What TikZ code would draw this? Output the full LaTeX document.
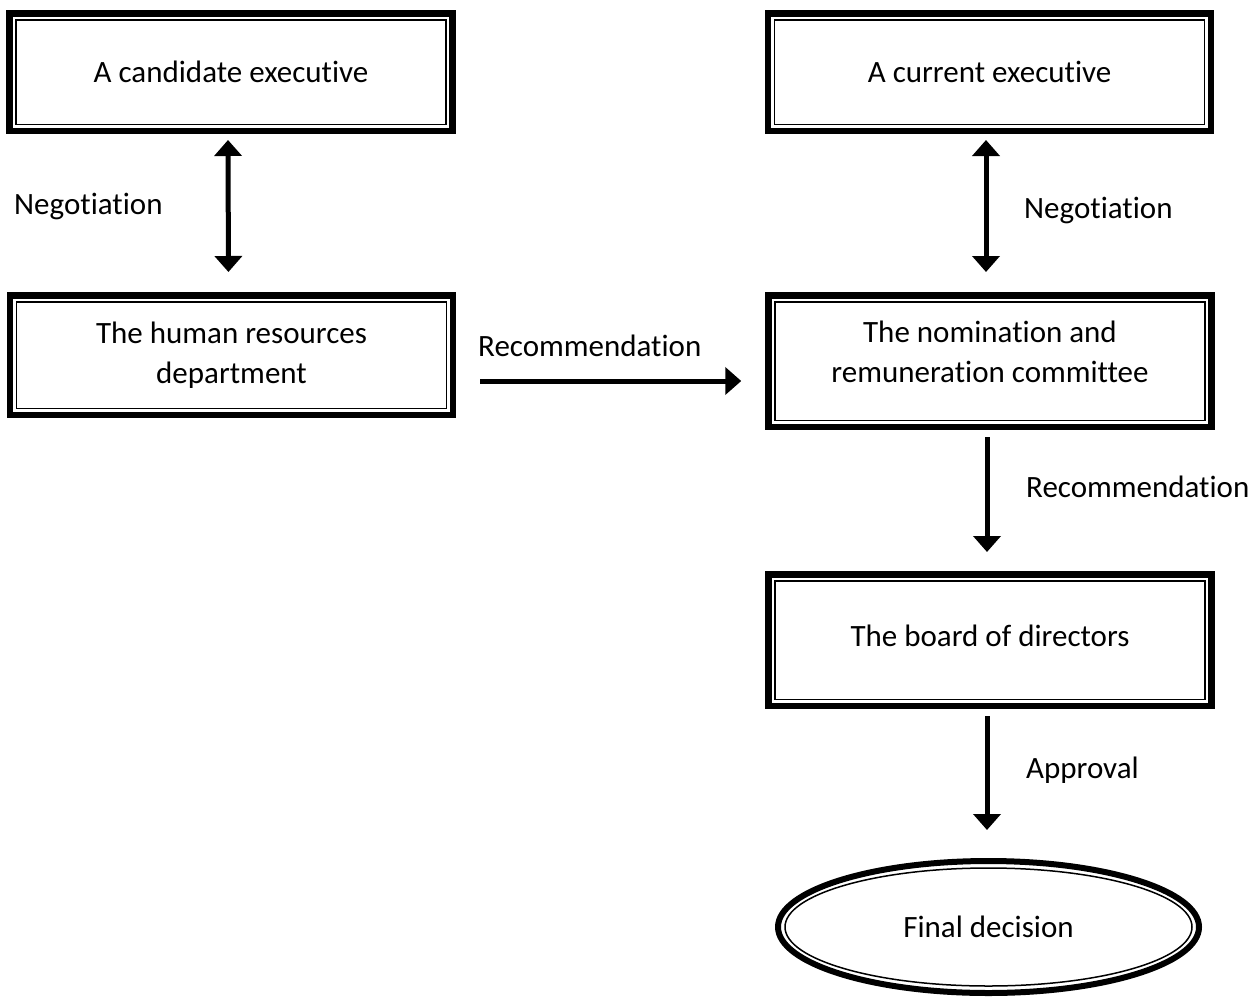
\documentclass[tikz,border=0pt]{standalone}
\usepackage{fontspec}
\setmainfont{Carlito}[Ligatures=NoCommon]
\usetikzlibrary{arrows.meta, positioning, calc, shapes.geometric}

\tikzset{
  txt/.style={font=\fontsize{31}{40}\selectfont},
  ttbox/.style={txt, draw, line width=6.5pt, minimum width=443pt, align=center,
    path picture={\draw[line width=1.5pt]
      ([shift={(6.5pt,-6.5pt)}]path picture bounding box.north west) rectangle
      ([shift={(-6.5pt,6.5pt)}]path picture bounding box.south east);}},
  ttoval/.style={txt, draw, ellipse, line width=6pt, minimum width=421pt, minimum height=132pt,
    path picture={\draw[line width=1.5pt] let \p1=(path picture bounding box.north east),
      \p2=(path picture bounding box.center) in (\p2) ellipse ({\x1-\x2-7pt} and {\y1-\y2-7pt});}},
  link/.style={line width=5pt, -{Triangle[length=16pt, width=27pt]}},
  lbl/.style={txt, inner sep=0pt, anchor=west}
}

\begin{document}
\begin{tikzpicture}[x=1pt, y=-1pt]
  \useasboundingbox (0,0) rectangle (1258,996);

  % === Boxes ===
  \node[ttbox, minimum height=117.5pt] (cand) at (231,72) {A candidate executive};
  \node[ttbox, minimum height=117.5pt] (curr) at (989.5,72) {A current executive};
  \node[ttbox, minimum height=119.5pt] (hr) at (231.5,355) {The human resources\\department};
  \node[ttbox, minimum height=131.5pt, text depth=18pt] (nom) at (990,361) {The nomination and\\remuneration committee};
  \node[ttbox, minimum height=131.5pt, text depth=8pt] (board) at (990,640) {The board of directors};
  \node[ttoval] (final) at (988.5,927) {Final decision};

  % === Arrows ===
  \draw[link, {Triangle[length=16pt, width=27pt]}-{Triangle[length=16pt, width=27pt]}, shorten <=6pt, shorten >=20pt]
    ([xshift=-3pt]cand.south) -- ([xshift=-3pt]hr.north);
  \draw[link, {Triangle[length=16pt, width=27pt]}-{Triangle[length=16pt, width=27pt]}, shorten <=6pt, shorten >=20pt]
    ([xshift=-3.5pt]curr.south) -- ([xshift=-3.5pt]curr.south |- nom.north);
  \draw[link, shorten >=24pt] ([shift={(24,26)}]hr.east) coordinate (rs) -- (rs -| nom.west);
  \draw[link, shorten <=7pt, shorten >=19pt] ([xshift=-3pt]nom.south) -- ([xshift=-3pt]board.north);
  \draw[link, shorten <=7pt, shorten >=28pt] ([xshift=-3pt]board.south) -- ([xshift=-3pt]board.south |- final.north);

  % === Labels ===
  \node[lbl] (neg1) at (14,206) {Negotiation};
  \node[lbl] (neg2) at (1024,210) {Negotiation};
  \node[lbl] (rec1) at (478,346) {Recommendation};
  \node[lbl] (rec2) at (1026,487) {Recommendation};
  \node[lbl] (appr) at (1026,770) {Approval};
\end{tikzpicture}
\end{document}
